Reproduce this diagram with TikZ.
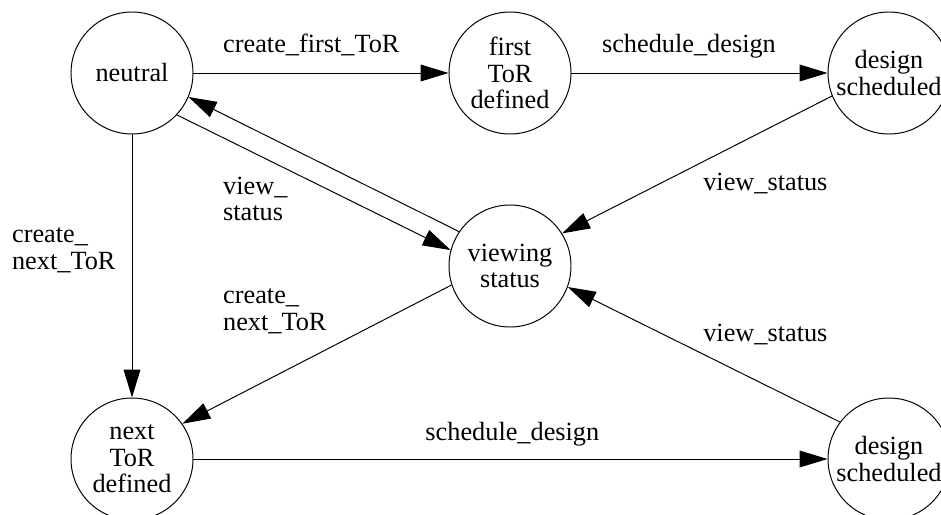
\documentclass[tikz,border=0pt]{standalone}
\usepackage{fontspec}
\setmainfont{Liberation Serif}
\usetikzlibrary{arrows.meta}

\begin{document}
\begin{tikzpicture}[state/.style={draw,circle,minimum size=3.05cm,inner sep=0pt,align=center},
  lbl/.style={anchor=base west,align=left,inner sep=0pt},
  font=\fontsize{18.7}{18.8}\selectfont, ->,>={Triangle[length=0.7cm,width=0.42cm]}, line width=0.7pt]
  \clip (0,0) rectangle (23.525,-12.875);
  \node[state] (N) at (3.3,-1.825) {neutral};
  \node[state] (F) at (12.75,-1.825) {first\\ToR\\defined};
  \node[state] (D1) at (22.225,-1.825) {design\\scheduled};
  \node[state] (V) at (12.75,-6.65) {viewing\\status};
  \node[state] (X) at (3.3,-11.475) {next\\ToR\\defined};
  \node[state] (D2) at (22.225,-11.475) {design\\scheduled};
  \node[lbl] (l1) at (5.567,-1.325) {create\_first\_ToR};
  \node[lbl] (l2) at (15.04,-1.325) {schedule\_design};
  \node[lbl] (l3) at (17.57,-4.75) {view\_status};
  \node[lbl] (l4) at (5.567,-5.518) {view\_\\status};
  \node[lbl] (l5) at (0.29,-6.733) {create\_\\next\_ToR};
  \node[lbl] (l6) at (5.567,-8.25) {create\_\\next\_ToR};
  \node[lbl] (l7) at (17.57,-8.54) {view\_status};
  \node[lbl] (l8) at (10.625,-11.0) {schedule\_design};
  \draw (N) -- (F);
  \draw (F) -- (D1);
  \draw (D1.202) -- (V.32);
  \draw (V.146) -- (N.-23);
  \draw (N.-43) -- (V.165);
  \draw (N) -- (X);
  \draw (V.198) -- (X.35);
  \draw (X) -- (D2);
  \draw (D2.143) -- (V.-20);
\end{tikzpicture}
\end{document}
